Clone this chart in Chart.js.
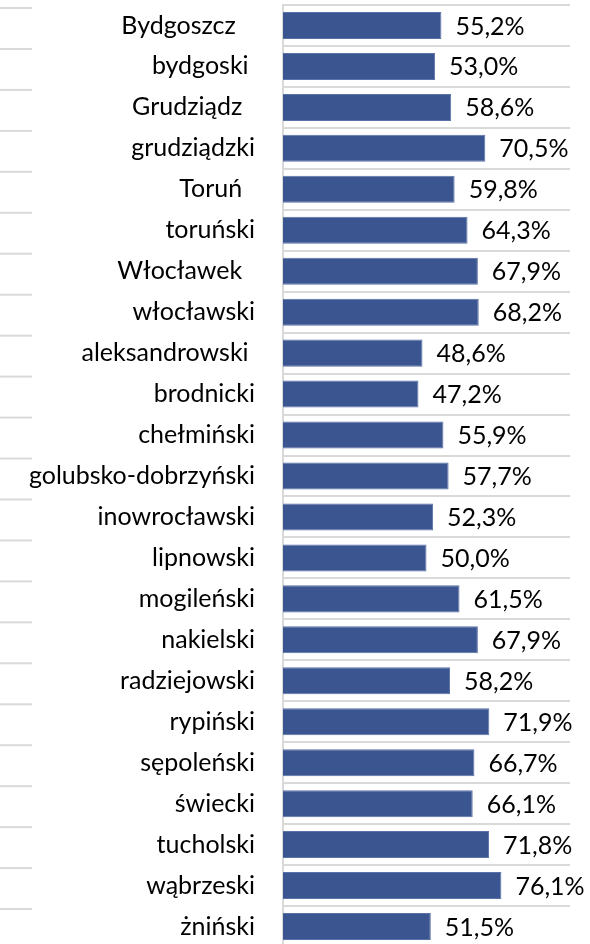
<!DOCTYPE html>
<html>
<head>
<meta charset="utf-8">
<script src="https://cdn.jsdelivr.net/npm/chart.js@4"></script>
<style>
  html, body { margin: 0; padding: 0; background: #fff; overflow: hidden; }
  #wrap { width: 590px; height: 950px; position: relative; }
</style>
</head>
<body>
<div id="wrap"><canvas id="chartPowiaty"></canvas></div>
<script>
// powiaty - udzial procentowy
const powiaty = [
  'Bydgoszcz   ', 'bydgoski ', 'Grudziądz  ', 'grudziądzki', 'Toruń  ',
  'toruński', 'Włocławek  ', 'włocławski', 'aleksandrowski ', 'brodnicki',
  'chełmiński', 'golubsko-dobrzyński', 'inowrocławski', 'lipnowski', 'mogileński',
  'nakielski', 'radziejowski', 'rypiński', 'sępoleński', 'świecki',
  'tucholski', 'wąbrzeski', 'żniński'
];
const wartosci = [
  55.2, 53.0, 58.6, 70.5, 59.8,
  64.3, 67.9, 68.2, 48.6, 47.2,
  55.9, 57.7, 52.3, 50.0, 61.5,
  67.9, 58.2, 71.9, 66.7, 66.1,
  71.8, 76.1, 51.5
];
const xMin = 0;
const xMax = 100;

const fontName = 'Lato, "Noto Sans", sans-serif';
const fontSize = 25;

let formatPct = (v) => v.toFixed(1).replace('.', ',') + '%';

// etykiety wartosci przy koncu slupka
const valueLabels = {
  id: 'valueLabels',
  afterDatasetsDraw(chart) {
    const ctx = chart.ctx;
    const meta = chart.getDatasetMeta(0);
    ctx.save();
    ctx.font = fontSize + 'px ' + fontName;
    ctx.fillStyle = '#000';
    ctx.textAlign = 'left';
    ctx.textBaseline = 'middle';
    meta.data.forEach((bar, i) => {
      ctx.fillText(formatPct(wartosci[i]), bar.x + 14, bar.y + 1);
    });
    ctx.restore();
  }
};

// krotkie linie po lewej stronie (jak w arkuszu)
const leftLines = {
  id: 'leftLines',
  afterDraw(chart) {
    const ctx = chart.ctx;
    const y = chart.scales.y;
    ctx.save();
    ctx.strokeStyle = '#d9d9d9';
    ctx.lineWidth = 2;
    for (let i = 0; i <= powiaty.length; i++) {
      const py = y.getPixelForValue(i - 0.5) + 3;
      ctx.beginPath();
      ctx.moveTo(0, py);
      ctx.lineTo(32, py);
      ctx.stroke();
    }
    ctx.restore();
  }
};

new Chart('chartPowiaty', {
  type: 'bar',
  data: {
    labels: powiaty,
    datasets: [{
      data: wartosci,
      backgroundColor: '#3b5591',
      borderColor: '#5a72a8',
      borderWidth: 1,
      categoryPercentage: 1,
      barPercentage: 0.66
    }]
  },
  options: {
    indexAxis: 'y',
    responsive: true,
    maintainAspectRatio: false,
    animation: false,
    layout: { padding: { top: 5, right: 20, bottom: 3, left: 0 } },
    plugins: {
      legend: { display: false },
      tooltip: { enabled: false }
    },
    scales: {
      x: {
        min: xMin,
        max: xMax,
        display: false
      },
      y: {
        offset: true,
        afterFit(scale) {
          scale.width = 283;
          scale.paddingTop = 0;
          scale.paddingBottom = 0;
        },
        grid: {
          offset: true,
          color: '#d9d9d9',
          lineWidth: 2,
          drawTicks: false
        },
        border: { display: true, color: '#d9d9d9', width: 2 },
        ticks: {
          color: '#000',
          padding: 28,
          autoSkip: false,
          font: { family: fontName, size: fontSize }
        }
      }
    }
  },
  plugins: [valueLabels, leftLines]
});
</script>
</body>
</html>
